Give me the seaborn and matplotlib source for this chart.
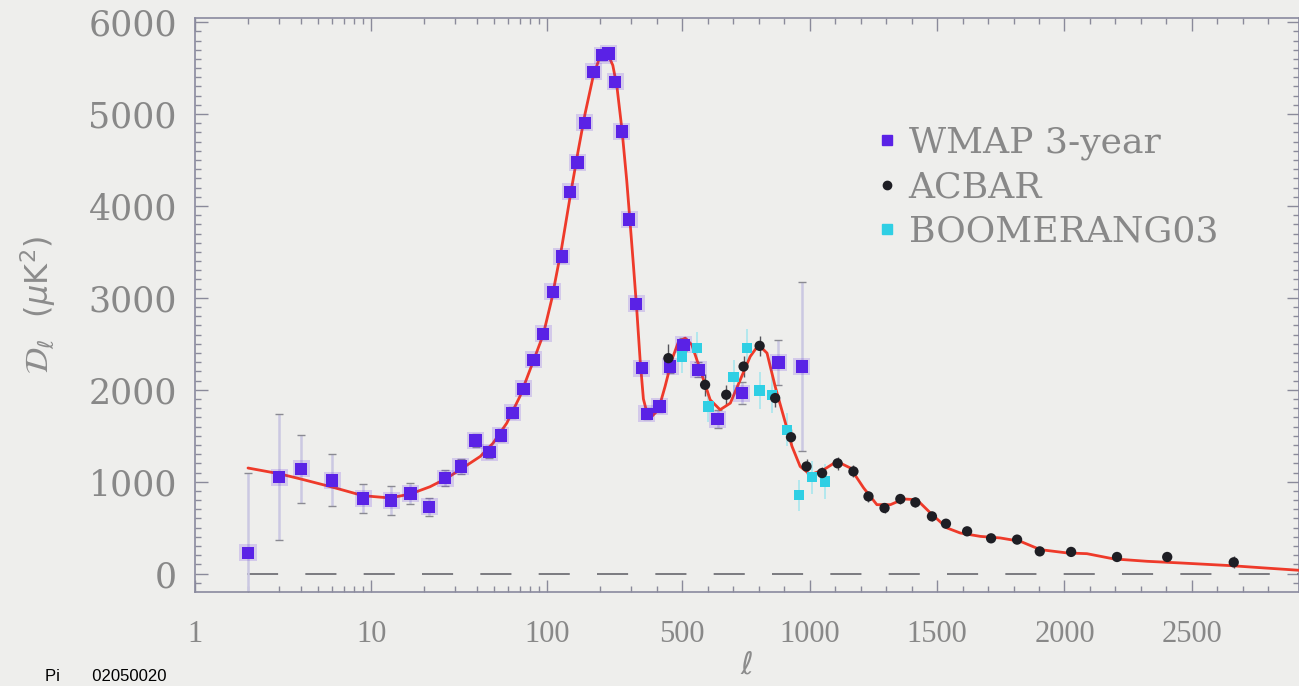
import numpy as np
import pandas as pd
import matplotlib
matplotlib.use("Agg")
import matplotlib.pyplot as plt
import seaborn as sns
from matplotlib.lines import Line2D
from matplotlib.ticker import FixedLocator, FixedFormatter

# ---------------- data ----------------
wmap_l = [2, 3, 4, 6, 9, 13, 16.7, 21.4, 26.3, 32.3, 39.2, 47, 54.6, 63.5, 73.5, 83.8,
          94.9, 107.7, 121, 135, 149, 164, 183, 205, 223, 243, 266, 292, 320, 342, 362,
          411, 453, 505, 564, 639, 734, 878, 970]
wmap_v = [225, 1051, 1141, 1014, 815, 797, 870, 725, 1040, 1166, 1449, 1323, 1503, 1750,
          2011, 2326, 2609, 3065, 3449, 4155, 4471, 4905, 5460, 5641, 5660, 5351, 4808,
          3855, 2935, 2236, 1739, 1819, 2253, 2489, 2217, 1682, 1964, 2297, 2253]
wmap_err = [870, 685, 370, 282, 158, 154, 115, 100, 90, 80, 75, 70, 65, 60, 55, 55, 55,
            55, 55, 55, 55, 55, 55, 55, 55, 55, 55, 55, 55, 55, 60, 60, 65, 70, 80, 100,
            120, 250, 915]

acbar_l = [446, 590, 673, 741, 804, 865, 927, 988, 1049, 1110, 1172, 1231, 1294, 1356,
           1415, 1480, 1535, 1618, 1712, 1814, 1903, 2026, 2206, 2403, 2664]
acbar_v = [2344, 2054, 1946, 2253, 2478, 1910, 1484, 1166, 1094, 1200, 1112, 840, 714,
           812, 775, 623, 543, 460, 384, 370, 242, 236, 181, 181, 123]
acbar_err = [150, 120, 110, 110, 110, 100, 90, 80, 70, 70, 65, 60, 55, 55, 55, 50, 45,
             45, 40, 40, 40, 40, 45, 55, 65]

boom_l = [499, 558, 603, 702, 754, 804, 852, 911, 958, 1009, 1061]
boom_v = [2362, 2453, 1819, 2138, 2453, 1993, 1946, 1565, 853, 1049, 1003]
boom_err = [180, 180, 170, 190, 210, 200, 200, 180, 170, 180, 190]

curve_l = [2, 3, 4, 6, 9, 12.8, 16.7, 21.6, 27, 32, 41.7, 49.3, 59, 70, 83, 95, 106, 121,
           135, 150, 164, 183, 200, 218, 236, 249, 266, 283, 295, 309, 322, 335, 348, 362,
           381, 407, 433, 460, 486, 512, 538, 571, 610, 649, 689, 728, 767, 800, 833, 865,
           898, 931, 963, 1003, 1055, 1107, 1160, 1212, 1264, 1317, 1369, 1421, 1474, 1539,
           1591, 1670, 1748, 1827, 1905, 2010, 2088, 2193, 2324, 2455, 2651, 2782, 2922]
curve_v = [1149, 1087, 1029, 942, 848, 823, 866, 945, 1040, 1130, 1275, 1420, 1638, 1927,
           2300, 2600, 2980, 3550, 4100, 4600, 5000, 5420, 5630, 5680, 5530, 5300, 4830,
           4280, 3850, 3350, 2870, 2330, 1900, 1750, 1710, 1783, 2036, 2330, 2525, 2562,
           2489, 2217, 1891, 1783, 1855, 2109, 2362, 2489, 2399, 2036, 1710, 1384, 1166,
           1076, 1130, 1221, 1149, 932, 750, 750, 812, 804, 660, 497, 442, 405, 388, 351,
           261, 225, 217, 160, 134, 116, 87, 62, 36]

series_names = ["WMAP 3-year", "ACBAR", "BOOMERANG03"]
xtick_vals = [1, 10, 100, 500, 1000, 1500, 2000, 2500]
xtick_labels = ["1", "10", "100", "500", "1000", "1500", "2000", "2500"]
ytick_vals = [0, 1000, 2000, 3000, 4000, 5000, 6000]

# ---------------- hybrid log/linear ell axis ----------------
L0 = 300.0
LG0 = np.log10(L0)
K = L0 * np.log(10.0)

def fwd(l):
    l = np.asarray(l, dtype=float)
    lg = np.log10(np.clip(l, 1e-10, None))
    lin = LG0 + (l - L0) / K
    return np.where(l <= L0, lg, lin)

def inv(u):
    u = np.asarray(u, dtype=float)
    ex = 10.0 ** np.minimum(u, LG0)
    lin = L0 + (u - LG0) * K
    return np.where(u <= LG0, ex, lin)

# ---------------- figure ----------------
sns.set_theme(style="ticks")
bg = "#eeeeec"
W, H = 1299, 686
fig = plt.figure(figsize=(W / 100, H / 100), dpi=100, facecolor=bg)
ax = fig.add_axes([195 / W, (H - 592) / H, (W - 195) / W, (592 - 18) / H])
ax.set_facecolor(bg)

wmap_c = "#5a22e6"
acbar_c = "#1e1e24"
boom_c = "#2fcfe4"
red_c = "#ee3a2a"

df_curve = pd.DataFrame({"l": curve_l, "D": curve_v})
df_w = pd.DataFrame({"l": wmap_l, "D": wmap_v, "e": wmap_err})
df_a = pd.DataFrame({"l": acbar_l, "D": acbar_v, "e": acbar_err})
df_b = pd.DataFrame({"l": boom_l, "D": boom_v, "e": boom_err})

# zero line (starts at the first multipole)
ax.axhline(0, xmin=0.047, color="#7a7a80", lw=1.4, ls=(0, (16, 14)), zorder=1)

# error bars
ax.errorbar(df_w["l"], df_w["D"], yerr=df_w["e"], fmt="none", ecolor="#cbc8e2",
            elinewidth=1.8, zorder=2)
ax.scatter(df_w["l"], df_w["D"] + df_w["e"], marker="_", s=30, color="#8a8a92",
           lw=1.0, zorder=2)
ax.scatter(df_w["l"], df_w["D"] - df_w["e"], marker="_", s=30, color="#8a8a92",
           lw=1.0, zorder=2)
ax.errorbar(df_b["l"], df_b["D"], yerr=df_b["e"], fmt="none", ecolor="#a8e6ee",
            elinewidth=1.2, ls=":", zorder=2)
ax.errorbar(df_a["l"], df_a["D"], yerr=df_a["e"], fmt="none", ecolor="#55555c",
            elinewidth=1.0, zorder=2)

# theory curve
sns.lineplot(data=df_curve, x="l", y="D", sort=False, estimator=None, color=red_c,
             lw=2.0, ax=ax, zorder=3, legend=False)

# data points (soft halo + marker)
sns.scatterplot(data=df_w, x="l", y="D", marker="s", s=150, color=wmap_c, alpha=0.18,
                edgecolor="none", ax=ax, zorder=4, legend=False)
sns.scatterplot(data=df_w, x="l", y="D", marker="s", s=80, color=wmap_c,
                edgecolor="none", ax=ax, zorder=5, legend=False)
sns.scatterplot(data=df_b, x="l", y="D", marker="s", s=55, color=boom_c,
                edgecolor="none", ax=ax, zorder=6, legend=False)
sns.scatterplot(data=df_a, x="l", y="D", marker="o", s=55, color=acbar_c,
                edgecolor="none", ax=ax, zorder=7, legend=False)

ax.set_xscale("function", functions=(fwd, inv))
ax.set_xlim(1, 2920)
ax.set_ylim(-200, 6045)

# ticks
minor_x = [2, 3, 4, 5, 6, 7, 8, 9, 20, 30, 40, 50, 60, 70, 80, 90, 200, 300, 400] + \
          [v for v in range(600, 2900, 100) if v % 500 != 0]
ax.xaxis.set_major_locator(FixedLocator(xtick_vals))
ax.xaxis.set_major_formatter(FixedFormatter(xtick_labels))
ax.xaxis.set_minor_locator(FixedLocator(minor_x))
ax.set_yticks(ytick_vals)
ax.yaxis.set_minor_locator(FixedLocator([v for v in range(-100, 6001, 100) if v % 1000 != 0]))

tick_c = "#8a8a9a"
ax.tick_params(axis="both", which="both", direction="in", top=True, right=True,
               color=tick_c, width=1.0)
ax.tick_params(axis="both", which="major", length=9)
ax.tick_params(axis="both", which="minor", length=4)
ax.tick_params(axis="y", which="major", pad=13, labelsize=25, labelcolor="#888888")
ax.tick_params(axis="x", which="major", pad=20, labelsize=22, labelcolor="#888888")
for lab in ax.get_yticklabels():
    lab.set_fontfamily("DejaVu Serif")
for lab in ax.get_xticklabels():
    lab.set_fontfamily("Liberation Serif")

for sp in ax.spines.values():
    sp.set_color("#8a8a9e")
    sp.set_linewidth(1.2)

ax.set_xlabel(r"$\ell$", fontsize=22, color="#8c8c8c", labelpad=1)
ax.set_ylabel(r"$\mathcal{D}_\ell\ \ (\mu\mathrm{K}^2)$", fontsize=23, color="#8c8c8c",
              labelpad=22)

# legend
handles = [
    Line2D([], [], ls="none", marker="s", ms=7, color=wmap_c),
    Line2D([], [], ls="none", marker="o", ms=6, color=acbar_c),
    Line2D([], [], ls="none", marker="s", ms=7, color=boom_c),
]
leg = ax.legend(handles, series_names, loc="upper left", bbox_to_anchor=(0.612, 0.812),
                frameon=False, handletextpad=0.15, handlelength=0.9, labelspacing=0.28,
                borderpad=0, borderaxespad=0,
                prop={"family": "DejaVu Serif", "size": 26})
for t in leg.get_texts():
    t.set_color("#888888")

fig.text(45 / W, 0.003, "Pi       02050020", fontsize=12, color="black",
         family="Liberation Sans", va="bottom")

fig.savefig("out.png", dpi=100, facecolor=bg)
